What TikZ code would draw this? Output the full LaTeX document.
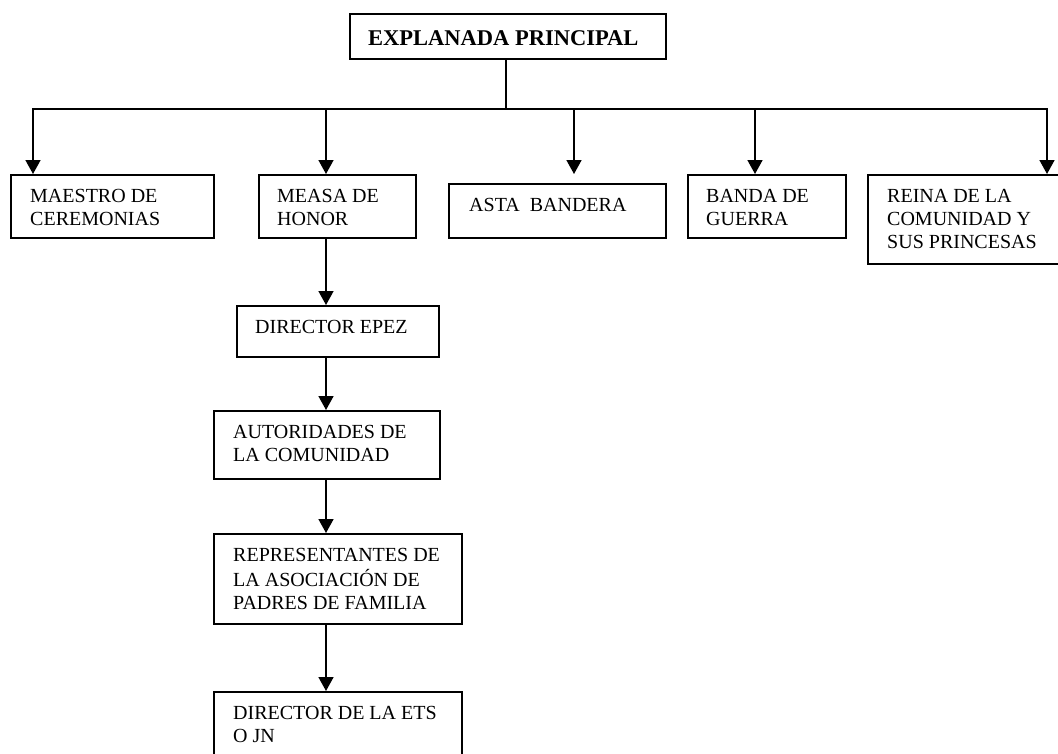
\documentclass[tikz,border=0pt]{standalone}
\usepackage{fontspec}
\setmainfont{Liberation Serif}
\usetikzlibrary{arrows.meta}
\begin{document}
\begin{tikzpicture}[x=1pt,y=-1pt,
  boxst/.style={draw, line width=1.8pt, rectangle, inner sep=0pt, anchor=north west},
  lbl/.style={anchor=north west, inner sep=0pt, align=left, font=\fontsize{20}{23.3}\selectfont},
  conn/.style={line width=1.6pt, line cap=rect},
  arr/.style={line width=1.6pt, -{Triangle[length=14pt,width=15pt]}}]
\useasboundingbox (0,0) rectangle (1058,753);
\clip (0,0) rectangle (1058,753);
% boxes
\node[boxst, line width=1.5pt, minimum width=316pt, minimum height=45pt] (top) at (349,13) {};
\node[boxst, minimum width=203pt, minimum height=63pt] (maestro) at (10,174) {};
\node[boxst, minimum width=157pt, minimum height=63pt] (measa) at (258,174) {};
\node[boxst, minimum width=217pt, minimum height=54pt] (asta) at (448,183) {};
\node[boxst, minimum width=158pt, minimum height=63pt] (banda) at (687,174) {};
\node[boxst, minimum width=200pt, minimum height=89pt] (reina) at (867,174) {};
\node[boxst, minimum width=202pt, minimum height=51pt] (epez) at (236,305) {};
\node[boxst, minimum width=226pt, minimum height=68pt] (autor) at (213,410) {};
\node[boxst, minimum width=248pt, minimum height=90pt] (repr) at (213,533) {};
\node[boxst, minimum width=248pt, minimum height=80pt] (direts) at (213,691) {};
% labels
\node[lbl, font=\fontsize{22.5}{26}\selectfont\bfseries] (ttop) at ([shift={(19,13.8)}]top.north west) {\strut EXPLANADA PRINCIPAL};
\node[lbl] (tmaestro) at ([shift={(20,11.7)}]maestro.north west) {\strut MAESTRO DE\\CEREMONIAS};
\node[lbl] (tmeasa) at ([shift={(19,11.7)}]measa.north west) {\strut MEASA DE\\HONOR};
\node[lbl] (tasta) at ([shift={(21,11.7)}]asta.north west) {\strut ASTA\ \ BANDERA};
\node[lbl] (tbanda) at ([shift={(19,11.7)}]banda.north west) {\strut BANDA DE\\GUERRA};
\node[lbl] (treina) at ([shift={(20,11.7)}]reina.north west) {\strut REINA DE LA\\COMUNIDAD Y\\SUS PRINCESAS};
\node[lbl] (tepez) at ([shift={(19,11.7)}]epez.north west) {\strut DIRECTOR EPEZ};
\node[lbl] (tautor) at ([shift={(20,11.7)}]autor.north west) {\strut AUTORIDADES DE\\LA COMUNIDAD};
\node[lbl] (trepr) at ([shift={(20,11.7)}]repr.north west) {\strut REPRESENTANTES DE\\LA ASOCIACIÓN DE\\PADRES DE FAMILIA};
\node[lbl] (tdirets) at ([shift={(20,11.7)}]direts.north west) {\strut DIRECTOR DE LA ETS\\O JN};
% connectors
\coordinate (bus) at (506,109);
\coordinate (busL) at (33,109);
\coordinate (busR) at (1047,109);
\coordinate (d2) at (326,109);
\coordinate (d3) at (574,109);
\coordinate (d3e) at (574,174);
\coordinate (d4) at (755,109);
\coordinate (vx) at (326,0);
\draw[conn] (top.south -| bus) -- (bus);
\draw[conn] (busL) -- (busR);
\draw[arr] (busL) -- (busL |- maestro.north);
\draw[arr] (d2) -- (d2 |- measa.north);
\draw[arr] (d3) -- (d3e);
\draw[arr] (d4) -- (d4 |- banda.north);
\draw[arr] (busR) -- (busR |- reina.north);
\draw[arr] (measa.south -| vx) -- (epez.north -| vx);
\draw[arr] (epez.south -| vx) -- (autor.north -| vx);
\draw[arr] (autor.south -| vx) -- (repr.north -| vx);
\draw[arr] (repr.south -| vx) -- (direts.north -| vx);
\end{tikzpicture}
\end{document}
